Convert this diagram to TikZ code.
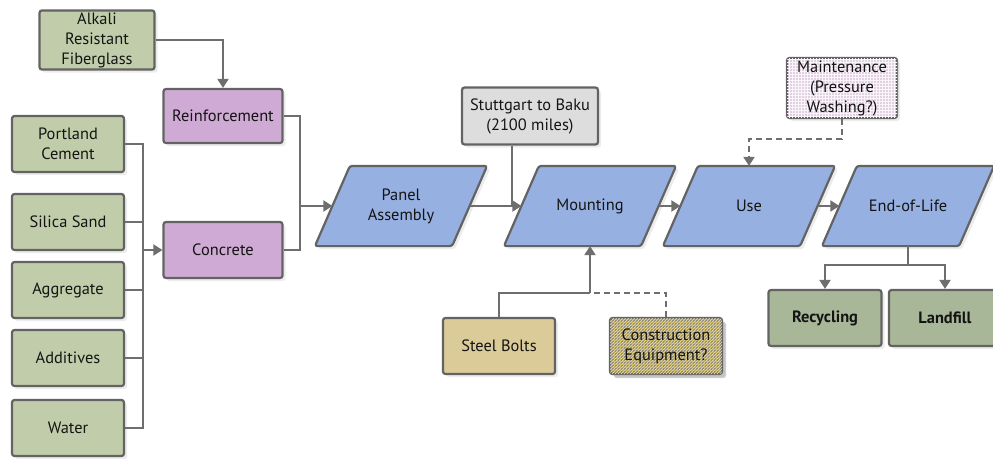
\documentclass[tikz,border=0pt]{standalone}
\usepackage{fontspec}
\setmainfont{PT Sans}
\usetikzlibrary{arrows.meta,patterns,shadows,backgrounds}
\definecolor{grn}{HTML}{C1CDAA}
\definecolor{grntwo}{HTML}{A8B797}
\definecolor{pur}{HTML}{CFAAD4}
\definecolor{blu}{HTML}{97B0E2}
\definecolor{gry}{HTML}{DDDDDD}
\definecolor{boltc}{HTML}{DACB98}
\definecolor{consc}{HTML}{C2AC52}
\definecolor{mntc}{HTML}{E3D0E3}
\definecolor{edgec}{HTML}{636363}
\definecolor{linec}{HTML}{6E6E6E}
\tikzset{
  txt/.style={align=center, font=\fontsize{16.4}{20}\selectfont, text=black!92},
  box/.style={txt, draw=edgec, line width=2.2pt, rounded corners=2.5pt,
    inner sep=2pt,
    drop shadow={shadow xshift=3pt, shadow yshift=-3pt, fill=gray!30}},
  paratext/.style={txt, minimum width=135, minimum height=78, inner sep=0pt, outer sep=1.1pt},
  parashape/.style={fill=blu, draw=edgec, line width=2.2pt, rounded corners=2.5pt,
    drop shadow={shadow xshift=3pt, shadow yshift=-3pt, fill=gray!30}},
  conn/.style={draw=linec, line width=2pt},
  arr/.style={conn, -{Triangle[length=9pt,width=11pt]}},
  dashc/.style={conn, dash pattern=on 6pt off 4pt},
}
\begin{document}
\begin{tikzpicture}[x=1pt,y=-1pt]
\useasboundingbox (0,0) rectangle (993,458);
\clip (0,0) rectangle (993,458);
% left column
\node[box, fill=grn, minimum width=115, minimum height=57] (afg) at (97,40) {Alkali\\Resistant\\Fiberglass};
\node[box, fill=grn, minimum width=112, minimum height=56] (pc) at (68,144) {Portland\\Cement};
\node[box, fill=grn, minimum width=112, minimum height=56] (ss) at (68,222) {Silica Sand};
\node[box, fill=grn, minimum width=112, minimum height=56] (ag) at (68,290) {Aggregate};
\node[box, fill=grn, minimum width=112, minimum height=56] (ad) at (68,358) {Additives};
\node[box, fill=grn, minimum width=112, minimum height=56] (wa) at (68,428) {Water};
\node[box, fill=pur, minimum width=119, minimum height=54] (reinf) at (223,116) {Reinforcement};
\node[box, fill=pur, minimum width=119, minimum height=56] (conc) at (223,250) {Concrete};
% main flow (text nodes; parallelograms drawn behind)
\node[paratext] (pa) at (401,206) {Panel\\Assembly};
\node[paratext] (mt) at (590,206) {Mounting};
\node[paratext] (use) at (749,206) {Use};
\node[paratext] (eol) at (908,206) {End-of-Life};
\begin{pgfonlayer}{background}
\foreach \n in {pa,mt,use,eol}
  \path[parashape] ([xshift=-17.5pt]\n.south west) -- ([xshift=17.5pt]\n.north west)
    -- ([xshift=17.5pt]\n.north east) -- ([xshift=-17.5pt]\n.south east) -- cycle;
\end{pgfonlayer}
\node[box, fill=gry, minimum width=136, minimum height=57] (stb) at (530,116) {Stuttgart to Baku\\(2100 miles)};
\node[box, fill=mntc, minimum width=110, minimum height=60, inner sep=0pt,
  postaction={pattern=grid, pattern color=white!80!mntc}] (mnt) at (842,88) {Maintenance\\(Pressure\\Washing?)};
\node[box, fill=boltc, minimum width=112, minimum height=56] (sb) at (499,346) {Steel Bolts};
\node[box, fill=consc, minimum width=112, minimum height=56,
  drop shadow={shadow xshift=4pt, shadow yshift=-4pt, fill=gray!75},
  postaction={pattern=grid, pattern color=gray!75!consc},
  postaction={pattern=north east lines, pattern color=white!60!consc}] (ce) at (666,346) {Construction\\Equipment?};
\node[box, fill=grntwo, minimum width=113, minimum height=56, font=\fontsize{16.4}{20}\selectfont\bfseries] (rec) at (825,318) {Recycling};
\node[box, fill=grntwo, minimum width=112, minimum height=56, font=\fontsize{16.4}{20}\selectfont\bfseries] (lf) at (945,318) {Landfill};
% junctions
\coordinate (bus) at (143,250);
\coordinate (j1) at (300,206);
\coordinate (j2) at (512,206);
\coordinate (j3) at (590,293);
\coordinate (j5) at (908,265);
% connectors
\draw[arr] (afg.east) -| (reinf.north);
\draw[conn] (pc.east) -| (bus);
\draw[conn] (ss.east) -| (bus);
\draw[conn] (ag.east) -| (bus);
\draw[conn] (ad.east) -| (bus);
\draw[conn] (wa.east) -| (bus);
\draw[arr] (bus) -- (conc.west);
\draw[conn] (reinf.east) -| (j1);
\draw[conn] (conc.east) -| (j1);
\draw[arr] (j1) -- (pa.west);
\draw[conn] (stb.south -| j2) -- (j2);
\draw[arr] (pa.east) -- (mt.west);
\draw[conn] (sb.north) |- (j3);
\draw[dashc] (ce.north) |- (j3);
\draw[arr] (j3) -- (mt.south);
\draw[arr] (mt.east) -- (use.west);
\draw[dashc, -{Triangle[length=9pt,width=11pt]}] (mnt.south) -- ++(0,20) -| (use.north);
\draw[arr] (use.east) -- (eol.west);
\draw[conn] (eol.south) -- (j5);
\draw[arr] (j5) -| (rec.north);
\draw[arr] (j5) -| (lf.north);
\end{tikzpicture}
\end{document}
